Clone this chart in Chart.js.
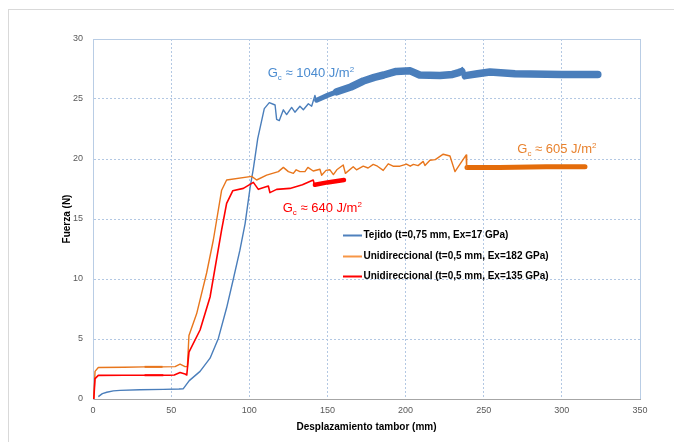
<!DOCTYPE html>
<html>
<head>
<meta charset="utf-8">
<script src="https://cdn.jsdelivr.net/npm/chart.js@4/dist/chart.umd.min.js"></script>
<style>
  html, body { margin: 0; padding: 0; background: #fff; }
  #wrap { position: relative; width: 674px; height: 442px; overflow: hidden; }
  #frame { position: absolute; left: 8px; top: 9px; width: 700px; height: 500px;
           border-left: 1px solid #d9d9d9; border-top: 1px solid #d9d9d9; }
  #c { position: absolute; left: 0; top: 0; }
</style>
</head>
<body>
<div id="wrap">
  <div id="frame"></div>
  <canvas id="c" width="674" height="442"></canvas>
</div>
<script>
// ---- axis ticks ----
const xTicks = [0, 50, 100, 150, 200, 250, 300, 350];
const yTicks = [0, 5, 10, 15, 20, 25, 30];

// ---- series labels ----
const seriesLabels = [
  'Tejido (t=0,75 mm, Ex=17 GPa)',
  'Unidireccional (t=0,5 mm, Ex=182 GPa)',
  'Unidireccional (t=0,5 mm, Ex=135 GPa)'
];

// ---- Tejido (blue): thin part, noisy band, spike ----
const tejidoThin = [[3.4,0.2],[6,0.45],[8.8,0.56],[13,0.68],[17.3,0.72],[30,0.77],[45,0.8],[55,0.83],[57.8,0.86],
  [61.6,1.53],[68.5,2.3],[74.9,3.4],[80.2,5.05],[85.5,7.6],[89.8,10],[94,12.4],[97.3,14.6],[100.5,17.6],[102.6,19.2],
  [105.4,21.7],[109.6,24.2],[112.8,24.7],[116.5,24.5],[117.5,23.3],[119.2,23.2],[121.8,24.1],[123.9,23.7],[127.1,24.3],
  [129.2,23.9],[132.4,24.4],[134.6,24.1],[137.8,24.6],[139.9,24.4],[142,25.3],[143.1,24.8]];
const tejidoBandA = [[143.1,24.9],[150,25.3],[158,25.7]];
const tejidoBandB = [[156,25.6],[165,26.0],[173,26.5],[180,26.8],[186,27.0],[194,27.3],[203,27.35],[209,27.0],
  [222,26.95],[230,27.05],[234,27.2],[236,27.3]];
const tejidoSpike = [[234,27.2],[236.3,27.6],[237.4,26.7],[238.2,26.95]];
const tejidoBandC = [[238.2,26.95],[246,27.1],[254,27.25],[270,27.1],[300,27.05],[323,27.05]];

// ---- Unidireccional 182 GPa (orange) ----
const uni182Thin = [[0.5,0],[1.3,2.3],[3.4,2.62],[20,2.65],[33,2.68],[44,2.68],[52.5,2.7],[55.7,2.9],[58.9,2.7],[60.4,2.7],
  [61.4,5.3],[66.3,7.1],[72.7,10.5],[77,13.25],[82.3,17.4],[85.5,18.25],[101.5,18.55],[104.7,18.25],[111.1,18.65],
  [118.6,18.95],[121.8,19.3],[125,18.95],[128.2,18.8],[130,19.1],[132.4,18.95],[135.6,18.95],[137.5,19.3],[140.9,19.0],
  [145.2,19.15],[146.3,18.65],[149.1,19.05],[151.6,19.1],[153.8,18.7],[156,19.1],[160.1,19.5],[161.5,18.8],[166.5,19.35],
  [168.6,19.1],[172.9,19.4],[176,19.25],[179.3,19.55],[182,19.4],[185.7,19.05],[188.9,19.6],[192,19.4],[196.4,19.4],
  [200.6,19.58],[203,19.4],[205,19.55],[208,19.45],[211.3,19.8],[212.4,19.45],[215.6,19.9],[219,19.95],[224.1,20.4],
  [228.4,20.25],[231.6,18.95],[238.7,20.33],[239.1,19.2]];
const uni182Noise = [[33,2.68],[44.5,2.68]];
const uni182Band = [[239.3,19.3],[260,19.3],[290,19.35],[314.8,19.35]];

// ---- Unidireccional 135 GPa (red) ----
const uni135Thin = [[0.5,0],[1.3,1.7],[3.4,1.97],[20,1.98],[49,1.98],[52,2.0],[55.7,2.2],[58.9,2.08],[60,2.0],
  [61.4,3.9],[68.5,5.75],[74.9,8.5],[82.3,14.1],[85.5,16.3],[89.4,17.35],[96.2,17.55],[102.6,18.05],[105.8,17.47],
  [112.2,17.75],[113.2,17.2],[117.5,17.47],[126,17.55],[134,17.85],[140.9,18.25],[142,17.7]];
const uni135Noise = [[33,1.98],[45,1.98]];
const uni135Band = [[142,17.85],[150,18.05],[160.6,18.25]];

// ---- annotations ----
const gcNotes = [
  { value: '1040', x: 111.8, y: 26.86, color: '#4a8bd0' },
  { value: '605',  x: 271.5, y: 20.47, color: '#e8822e' },
  { value: '640',  x: 121.4, y: 15.6,  color: '#ff0000' }
];

const BLUE = '#4a7ebb', ORANGE = '#e8761c', ORANGE_BAND = '#e46c0a', RED = '#ff0000';
const legendColors = ['#4f81bd', '#f79646', '#ff0000'];

const toXY = arr => arr.map(p => ({ x: p[0], y: p[1] }));
function ds(data, color, width, order, cap) {
  return { data: toXY(data), borderColor: color, borderWidth: width, pointRadius: 0,
           tension: 0, fill: false, order: order, borderJoinStyle: 'round',
           borderCapStyle: cap || 'butt' };
}

const FONT = '"Liberation Sans", Arial, sans-serif';

const frameAndLegend = {
  id: 'frameAndLegend',
  afterDatasetsDraw(chart) {
    const ctx = chart.ctx, a = chart.chartArea;
    const xs = chart.scales.x, ys = chart.scales.y;
    ctx.save();
    ctx.strokeStyle = '#b9cde5';
    ctx.lineWidth = 1;
    ctx.setLineDash([]);
    ctx.beginPath();
    ctx.moveTo(a.left, a.top + 0.5); ctx.lineTo(a.right + 0.5, a.top + 0.5);
    ctx.lineTo(a.right + 0.5, a.bottom);
    ctx.stroke();
    gcNotes.forEach(n => {
      let x = xs.getPixelForValue(n.x);
      const y = ys.getPixelForValue(n.y);
      ctx.fillStyle = n.color;
      ctx.textBaseline = 'alphabetic';
      ctx.textAlign = 'left';
      const parts = [
        { t: 'G', s: 13, dy: 0 },
        { t: 'c', s: 8, dy: 3 },
        { t: ' \u2248 ' + n.value + ' J/m', s: 13, dy: 0 },
        { t: '2', s: 8, dy: -5 }
      ];
      parts.forEach(p => {
        ctx.font = p.s + 'px ' + FONT;
        ctx.fillText(p.t, x, y + p.dy);
        x += ctx.measureText(p.t).width;
      });
    });
    const lx = a.left + 250, ly = a.top + 196, step = 20.5;
    seriesLabels.forEach((lab, i) => {
      const yy = Math.round(ly + i * step) + 0.5;
      ctx.strokeStyle = legendColors[i];
      ctx.lineWidth = 2;
      ctx.beginPath(); ctx.moveTo(lx, yy); ctx.lineTo(lx + 19, yy); ctx.stroke();
      ctx.fillStyle = '#000';
      ctx.font = 'bold 10px ' + FONT;
      ctx.textBaseline = 'middle';
      ctx.fillText(lab, lx + 20.5, yy);
    });
    ctx.restore();
  }
};

new Chart(document.getElementById('c'), {
  type: 'line',
  data: {
    datasets: [
      ds(tejidoThin, BLUE, 1.4, 3),
      ds(tejidoBandA, BLUE, 5, 3, 'round'),
      ds(tejidoBandB, BLUE, 7.5, 3, 'round'),
      ds(tejidoSpike, BLUE, 1.8, 3),
      ds(tejidoBandC, BLUE, 7.5, 3, 'round'),
      ds(uni182Thin, ORANGE, 1.4, 2),
      ds(uni182Noise, ORANGE, 2, 2),
      ds(uni182Band, ORANGE_BAND, 5, 2, 'round'),
      ds(uni135Thin, RED, 1.6, 1),
      ds(uni135Noise, RED, 2, 1),
      ds(uni135Band, RED, 4.5, 1, 'round')
    ]
  },
  options: {
    responsive: false,
    animation: false,
    events: [],
    layout: { padding: { top: 39, right: 34, left: 0, bottom: 0 } },
    plugins: { legend: { display: false }, tooltip: { enabled: false } },
    scales: {
      x: {
        type: 'linear', min: 0, max: 350,
        afterBuildTicks: s => { s.ticks = xTicks.map(v => ({ value: v })); },
        afterFit: s => { s.height = 43; },
        grid: { color: '#b3c8e3', lineWidth: 1, drawTicks: false, tickLength: 0 },
        border: { color: '#a6a6a6', width: 1, dash: [2, 2] },
        ticks: { padding: 6, color: '#595959', font: { family: FONT, size: 9 }, maxRotation: 0 },
        title: { display: true, text: 'Desplazamiento tambor (mm)', color: '#000',
                 font: { family: FONT, size: 10, weight: 'bold' }, padding: { top: 0, bottom: 9 } }
      },
      y: {
        type: 'linear', min: 0, max: 30,
        afterBuildTicks: s => { s.ticks = yTicks.map(v => ({ value: v })); },
        afterFit: s => { s.width = 93; },
        grid: { color: '#b3c8e3', lineWidth: 1, drawTicks: false, tickLength: 0 },
        border: { color: '#b9cde5', width: 1, dash: [2, 2] },
        ticks: { padding: 10, color: '#595959', font: { family: FONT, size: 9 } },
        title: { display: true, text: 'Fuerza (N)', color: '#000',
                 font: { family: FONT, size: 10, weight: 'bold' }, padding: { top: 61, bottom: 0 } }
      }
    }
  },
  plugins: [frameAndLegend]
});
</script>
</body>
</html>
